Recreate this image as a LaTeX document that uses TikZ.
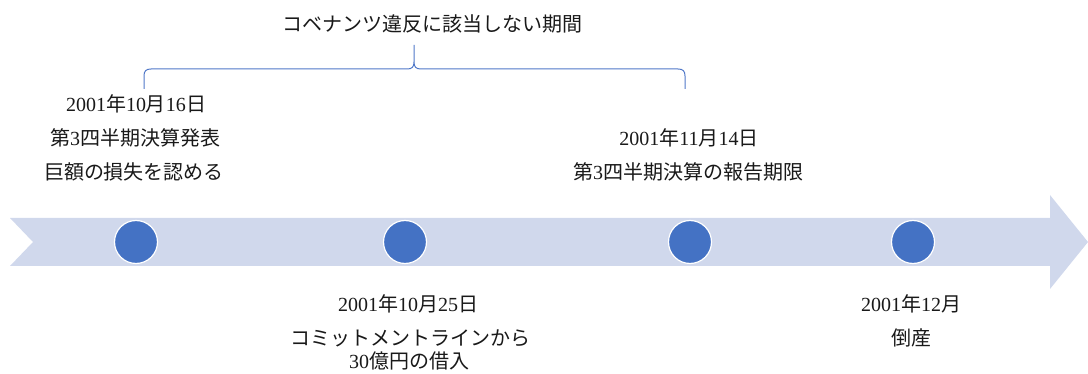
\documentclass[tikz,border=0pt]{standalone}
\usepackage{fontspec}
\setmainfont{Liberation Serif}
\newfontfamily\jp{Noto Sans CJK JP}
\newcommand{\J}[1]{{\jp #1}}
\definecolor{bandcol}{RGB}{208,216,236}
\definecolor{dotcol}{RGB}{68,114,196}
\definecolor{bracecol}{RGB}{80,120,200}
\begin{document}
\begin{tikzpicture}[x=1pt,y=-1pt,
  lbl/.style={inner sep=0pt,font=\fontsize{20}{23}\selectfont,text=black!90},
  dot/.style={circle,fill=dotcol,draw=white,line width=1.2pt,minimum size=43pt,inner sep=0pt}]
\useasboundingbox (0,0) rectangle (1088,374);
% timeline band
\fill[bandcol] (10,218) -- (1050,218) -- (1050,195) -- (1088,242) -- (1050,289) -- (1050,266) -- (10,266) -- (33,242) -- cycle;
% dots
\node[dot] (c1) at (136,242) {};
\node[dot] (c2) at (405,242) {};
\node[dot] (c3) at (690,242) {};
\node[dot] (c4) at (913,242) {};
% title and brace
\node[lbl] (title) at (432,24) {\J{コベナンツ違反に該当しない期間}};
\draw[bracecol,line width=1pt]
  (144,89) -- (144,76) .. controls (144,71) and (146,69) .. (151,69)
  -- (407,69) .. controls (412,69) and (414,67) .. (414,62) -- (414,45)
  -- (414,62) .. controls (414,67) and (416,69) .. (421,69)
  -- (678,69) .. controls (683,69) and (685,71) .. (685,76) -- (685,89);
% left top block
\node[lbl] (a1) at (136,104) {2001\J{年}10\J{月}16\J{日}};
\node[lbl] (a2) at (135,138) {\J{第}3\J{四半期決算発表}};
\node[lbl] (a3) at (134,172) {\J{巨額の損失を認める}};
% right top block
\node[lbl] (b1) at (689,138) {2001\J{年}11\J{月}14\J{日}};
\node[lbl] (b2) at (688,172) {\J{第}3\J{四半期決算の報告期限}};
% bottom middle block
\node[lbl] (d1) at (408,304) {2001\J{年}10\J{月}25\J{日}};
\node[lbl] (d2) at (410,338) {\J{コミットメントラインから}};
\node[lbl] (d3) at (409,361) {30\J{億円の借入}};
% bottom right block
\node[lbl] (e1) at (911,304) {2001\J{年}12\J{月}};
\node[lbl] (e2) at (911,338) {\J{倒産}};
\end{tikzpicture}
\end{document}
